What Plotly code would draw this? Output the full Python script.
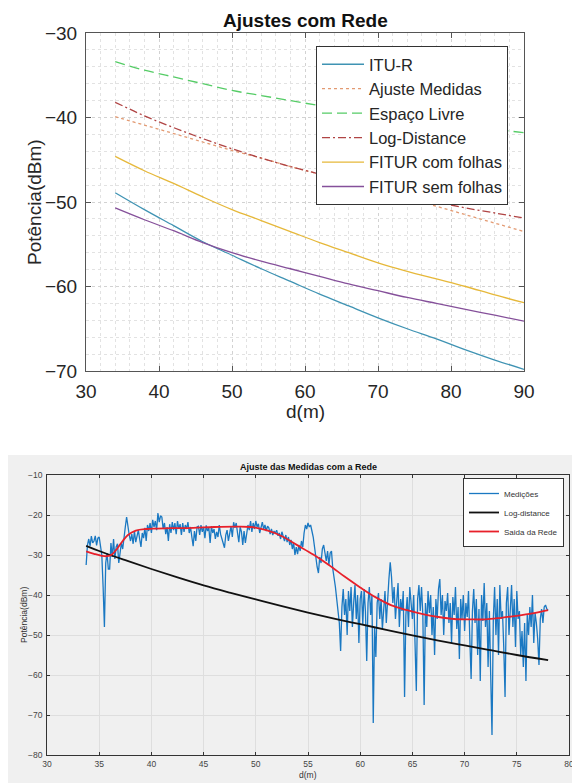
import numpy as np
import plotly.graph_objects as go

# ---------------- top chart data ----------------
D_TOP = [34, 38, 42, 46, 50, 54, 58, 62, 66, 70, 74, 78, 82, 86, 90]
ITU_R = [-48.9, -50.9, -52.8, -54.7, -56.3, -57.9, -59.4, -60.9, -62.3, -63.7, -65.0, -66.2, -67.5, -68.7, -69.8]
AJUSTE_MEDIDAS = [-39.9, -40.9, -41.9, -42.9, -43.9, -44.8, -45.8, -46.7, -47.6, -48.6, -49.5, -50.5, -51.5, -52.5, -53.5]
ESPACO_LIVRE = [-33.4, -34.4, -35.2, -36.0, -36.8, -37.4, -38.0, -38.6, -39.2, -39.7, -40.2, -40.6, -41.0, -41.4, -41.8]
LOG_DISTANCE = [-38.2, -39.8, -41.2, -42.5, -43.7, -44.8, -45.8, -46.7, -47.6, -48.5, -49.3, -50.0, -50.7, -51.3, -51.9]
FITUR_COM = [-44.6, -46.3, -47.8, -49.4, -50.9, -52.2, -53.5, -54.8, -56.0, -57.2, -58.2, -59.1, -60.0, -61.0, -61.9]
FITUR_SEM = [-50.7, -52.1, -53.4, -54.8, -56.0, -57.0, -57.9, -58.8, -59.7, -60.5, -61.3, -62.0, -62.7, -63.4, -64.1]

# ---------------- bottom chart data ----------------
MEDICOES = [
    -32.5, -27.5,                                              # 33.75 - 33.875
    -26.0, -27.8, -25.3, -27.0, -26.5, -25.2, -27.6, -25.8,    # 34
    -25.5, -28.5, -30.0, -38.0, -48.0, -32.0, -29.5, -33.5,    # 35
    -33.5, -27.0, -30.5, -26.0, -31.0, -28.0, -27.2, -32.0,    # 36
    -30.0, -27.0, -28.5, -25.0, -23.0, -20.5, -23.5, -25.0,    # 37
    -26.5, -24.8, -27.2, -24.0, -26.8, -25.5, -23.8, -26.0,    # 38
    -28.0, -24.5, -25.8, -23.2, -26.5, -22.5, -24.0, -22.0,    # 39
    -24.5, -21.2, -23.0, -21.5, -23.8, -19.5, -21.8, -20.2,    # 40
    -20.5, -23.5, -22.0, -24.8, -23.0, -26.5, -22.3, -24.5,    # 41
    -21.8, -23.8, -22.0, -24.8, -21.5, -23.5, -22.3, -25.0,    # 42
    -22.0, -24.2, -22.5, -23.5, -21.8, -24.5, -23.0, -25.5,    # 43
    -27.8, -24.0, -26.5, -23.0, -22.8, -25.0, -22.5, -24.2,    # 44
    -23.0, -25.8, -22.6, -24.0, -23.2, -27.0, -22.8, -24.5,    # 45
    -23.5, -26.0, -24.2, -25.5, -22.5, -24.8, -26.2, -27.5,    # 46
    -28.2, -25.0, -23.8, -26.5, -24.0, -22.8, -25.5, -21.8,    # 47
    -23.2, -22.0, -24.5, -26.8, -23.0, -24.2, -27.5, -24.0,    # 48
    -27.0, -24.0, -22.5, -23.8, -21.5, -24.2, -22.0, -23.5,    # 49
    -21.5, -23.0, -22.2, -24.5, -22.8, -21.8, -23.5, -22.5,    # 50
    -24.0, -22.8, -23.2, -24.8, -23.5, -25.0, -24.0, -24.5,    # 51
    -23.8, -25.2, -24.5, -26.0, -24.2, -25.5, -26.5, -25.0,    # 52
    -26.8, -25.5, -27.5, -26.2, -28.5, -27.0, -30.0, -28.0,    # 53
    -29.8, -27.5, -29.0, -26.5, -28.0, -24.5, -22.5, -23.5,    # 54
    -22.0, -23.0, -22.5, -24.0, -25.5, -28.0, -31.0, -33.0,    # 55
    -34.5, -30.5, -32.0, -28.5, -27.5, -30.0, -31.5, -29.0,    # 56
    -32.5, -29.5, -29.0, -33.5, -35.5, -38.0, -41.0, -45.0,    # 57
    -47.0, -54.0, -43.0, -38.5, -45.0, -41.0, -50.0, -39.0,    # 58
    -44.0, -38.0, -48.0, -42.0, -37.5, -46.0, -40.0, -52.0,    # 59
    -41.0, -39.0, -47.5, -38.5, -44.0, -56.5, -42.0, -38.0,    # 60
    -45.0, -40.0, -72.0, -48.0, -55.5, -42.0, -39.5, -46.0,    # 61
    -41.0, -48.5, -43.0, -39.0, -47.0, -40.0, -36.0, -31.8,    # 62
    -35.5, -42.0, -38.0, -46.0, -40.5, -37.0, -48.0, -41.0,    # 63
    -44.0, -39.0, -65.5, -45.0, -40.5, -48.0, -38.0, -43.0,    # 64
    -46.0, -40.0, -52.0, -64.0, -41.0, -37.5, -44.0, -38.0,    # 65
    -45.0, -67.5, -42.0, -48.0, -39.0, -44.5, -40.0, -50.0,    # 66
    -43.0, -55.0, -41.0, -46.0, -38.5, -36.0, -45.0, -40.0,    # 67
    -50.0, -41.5, -44.0, -39.5, -47.0, -42.0, -52.0, -40.5,    # 68
    -45.0, -38.0, -48.5, -43.0, -56.0, -41.0, -46.0, -40.0,    # 69
    -49.0, -42.0, -45.5, -39.0, -51.0, -61.0, -44.0, -38.5,    # 70
    -47.0, -41.0, -55.0, -43.5, -61.5, -40.0, -46.5, -37.0,    # 71
    -48.0, -42.0, -58.0, -44.0, -60.0, -75.0, -46.0, -38.0,    # 72
    -50.0, -41.0, -55.0, -37.5, -46.0, -44.0, -53.0, -65.5,    # 73
    -42.0, -38.0, -50.0, -44.5, -37.5, -48.0, -41.0, -53.0,    # 74
    -39.0, -46.0, -44.0, -55.0, -49.0, -58.0, -47.0, -61.5,    # 75
    -45.0, -50.0, -43.0, -48.0, -40.0, -52.0, -44.5, -47.0,    # 76
    -51.0, -57.5, -46.0, -43.5, -47.0, -43.0, -42.5, -43.5,    # 77
    -43.8,                                                     # 78
]
# measurement positions: regular 0.125 m sampling from 33.75 m to 78 m
D_MED = np.round(np.arange(33.75, 78.0 + 1e-9, 0.125), 3)

D_LOG = [33.75, 35, 37.5, 40, 42.5, 45, 47.5, 50, 52.5, 55, 57.5, 60, 62.5, 65, 67.5, 70, 72.5, 75, 78]
LOG_DIST_B = [-27.7, -29.0, -31.3, -33.5, -35.6, -37.6, -39.4, -41.1, -42.8, -44.4, -45.9, -47.3, -48.7, -50.1, -51.4, -52.6, -53.8, -55.0, -56.3]

D_REDE = [33.75, 34.5, 35.25, 35.75, 36.25, 36.75, 37.25, 37.75, 38.5, 39.5, 40.5, 42, 44, 46, 48,
          49.5, 51, 52.5, 54, 55.5, 57, 58.5, 60, 61.5, 63, 64.5, 66, 67.5, 69, 70.5, 72, 73.5, 75, 76.5, 78]
SAIDA_REDE = [-29.1, -29.7, -30.2, -30.3, -29.8, -28.3, -26.5, -25.0, -23.9, -23.5, -23.4, -23.3, -23.2, -23.0, -22.9,
              -23.0, -23.8, -25.3, -27.6, -29.9, -32.5, -35.4, -38.1, -40.6, -42.6, -43.8, -44.8, -45.5, -46.0, -46.1,
              -46.1, -45.7, -45.2, -44.6, -43.8]

FONT = "Liberation Sans, Arial, sans-serif"
# the page body keeps its default 8 px margin, so the figure is 8 px smaller
OFF = 8
FW, FH = 580 - OFF, 783 - OFF

fig = go.Figure()

top_series = [
    ("ITU-R", ITU_R, dict(color="#3f93b3", width=1.3, dash="solid")),
    ("Ajuste Medidas", AJUSTE_MEDIDAS, dict(color="#e39a72", width=1.3, dash="dot")),
    ("Espaço Livre", ESPACO_LIVRE, dict(color="#55cc66", width=1.3, dash="10px,5px")),
    ("Log-Distance", LOG_DISTANCE, dict(color="#b04444", width=1.3, dash="8px,3px,2px,3px")),
    ("FITUR com folhas", FITUR_COM, dict(color="#e6b83a", width=1.3, dash="solid")),
    ("FITUR sem folhas", FITUR_SEM, dict(color="#85509a", width=1.3, dash="solid")),
]
for name, vals, line in top_series:
    fig.add_trace(go.Scatter(x=D_TOP, y=vals, name=name, mode="lines",
                             line=dict(shape="spline", **line),
                             xaxis="x", yaxis="y", legend="legend"))

fig.add_trace(go.Scatter(x=D_MED, y=MEDICOES, name="Medições", mode="lines",
                         line=dict(color="#1a78c2", width=1.3),
                         xaxis="x2", yaxis="y2", legend="legend2"))
fig.add_trace(go.Scatter(x=D_LOG, y=LOG_DIST_B, name="Log-distance", mode="lines",
                         line=dict(color="#111111", width=1.8, shape="spline"),
                         xaxis="x2", yaxis="y2", legend="legend2"))
fig.add_trace(go.Scatter(x=D_REDE, y=SAIDA_REDE, name="Saida da Rede", mode="lines",
                         line=dict(color="#e8202a", width=1.8, shape="spline"),
                         xaxis="x2", yaxis="y2", legend="legend2"))

def px_x(p):
    return (p - OFF) / FW

def px_y(p):
    return 1 - (p - OFF) / FH

top_axis = dict(showline=True, linecolor="#555555", linewidth=1, mirror="ticks",
                ticks="inside", ticklen=5, tickcolor="#555555",
                showgrid=True, gridcolor="#d2d2d2", griddash="dot", gridwidth=1,
                zeroline=False, automargin=False,
                tickfont=dict(family=FONT, size=19, color="#262626"))
bot_axis = dict(showline=True, linecolor="#333333", linewidth=0.8, mirror="ticks",
                ticks="inside", ticklen=3, tickcolor="#333333",
                showgrid=True, gridcolor="#dedede", gridwidth=0.8,
                zeroline=False, automargin=False,
                tickfont=dict(family=FONT, size=8.5, color="#444444"))

def label(text, x, y, size, color, angle=0):
    return dict(text=text, x=px_x(x), y=px_y(y), xref="paper", yref="paper",
                xanchor="center", yanchor="middle", showarrow=False, textangle=angle,
                font=dict(family=FONT, size=size, color=color))

fig.update_layout(
    width=FW, height=FH, autosize=False,
    margin=dict(l=0, r=0, t=0, b=0, pad=0, autoexpand=False),
    paper_bgcolor="white", plot_bgcolor="white",
    showlegend=True,
    xaxis=dict(domain=[px_x(86), px_x(524)], range=[30, 90], dtick=10, anchor="y",
               ticklabelstandoff=3,
               minor=dict(dtick=2, showgrid=True, gridcolor="#e2e2e2", griddash="dot"),
               **top_axis),
    yaxis=dict(domain=[px_y(371), px_y(33)], range=[-70, -30], dtick=10, anchor="x",
               ticklabelstandoff=4,
               minor=dict(dtick=2, showgrid=True, gridcolor="#e2e2e2", griddash="dot"),
               **top_axis),
    xaxis2=dict(domain=[px_x(47), px_x(569)], range=[30, 80], dtick=5, anchor="y2",
                ticklabelstandoff=1,
                minor=dict(dtick=1, showgrid=True, gridcolor="#f0f0f0"),
                **bot_axis),
    yaxis2=dict(domain=[px_y(755), px_y(475)], range=[-80, -10], dtick=10, anchor="x2",
                ticklabelstandoff=2,
                minor=dict(dtick=2, showgrid=True, gridcolor="#f0f0f0"),
                **bot_axis),
    legend=dict(x=px_x(316), y=px_y(46), xanchor="left", yanchor="top",
                bgcolor="white", bordercolor="#333333", borderwidth=1,
                font=dict(family=FONT, size=16.5, color="#262626"),
                itemwidth=42,
                tracegroupgap=0, itemclick=False),
    legend2=dict(x=px_x(564), y=px_y(478), xanchor="right", yanchor="top",
                 bgcolor="white", bordercolor="#333333", borderwidth=1,
                 font=dict(family=FONT, size=8, color="#333333"),
                 tracegroupgap=0, itemclick=False),
    shapes=[dict(type="rect", xref="paper", yref="paper", x0=0, x1=1,
                 y0=0, y1=px_y(455), fillcolor="#f0f0f0", line=dict(width=0),
                 layer="below")],
    annotations=[
        label("<b>Ajustes com Rede</b>", 305, 20, 19, "#111111"),
        label("d(m)", 305, 411, 19, "#262626"),
        label("Potência(dBm)", 35, 202, 19, "#262626", -90),
        label("<b>Ajuste das Medidas com a Rede</b>", 308, 467, 9, "#111111"),
        label("d(m)", 308, 775, 8.5, "#333333"),
        label("Potência(dBm)", 24, 615, 8.5, "#333333", -90),
    ],
)

fig.write_html("out.html")
